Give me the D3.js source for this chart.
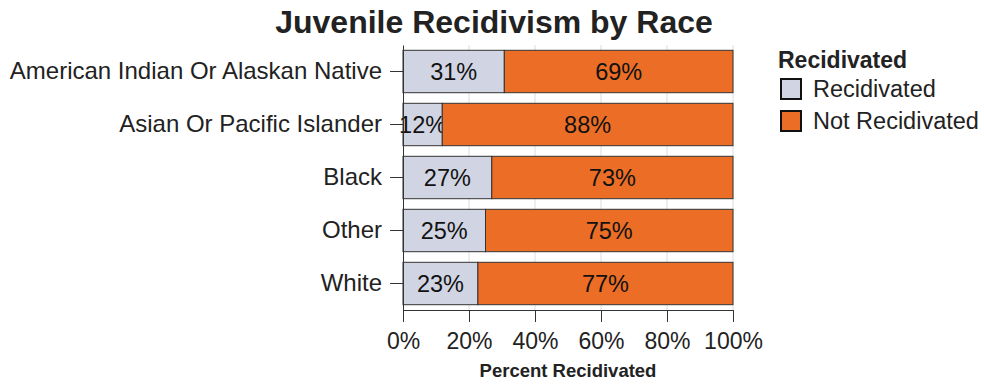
<!DOCTYPE html>
<html>
<head>
<meta charset="utf-8">
<script src="https://cdn.jsdelivr.net/npm/d3@7"></script>
<style>
  body { margin: 0; background: #fff; }
  svg { font-family: "Liberation Sans", Arial, sans-serif; }
</style>
</head>
<body>
<svg></svg>
<script>
// Chart size
const width = 984;
const height = 384;

// Data
const races = ["American Indian Or Alaskan Native", "Asian Or Pacific Islander", "Black", "Other", "White"];
const recidivated = [30.7, 11.9, 26.9, 25.0, 22.7];
const notRecidivated = recidivated.map(v => 100 - v);
const seriesNames = ["Recidivated", "Not Recidivated"];
const seriesColors = ["#d1d5e3", "#ec6e26"];
const xTicks = [0, 20, 40, 60, 80, 100];

const svg = d3.select("svg")
    .attr("width", width)
    .attr("height", height);

const margin = {left: 403, right: 251, top: 45, bottom: 74};

// Scales
const x = d3.scaleLinear()
    .domain([0, 100])
    .range([margin.left, width - margin.right]);

const y = d3.scaleBand()
    .domain(races)
    .range([margin.top, height - margin.bottom])
    .paddingInner(0.2)
    .paddingOuter(0.1);

// Gridlines
svg.append("g")
    .selectAll("line")
    .data(xTicks.slice(1))
    .enter()
    .append("line")
    .attr("x1", d => x(d))
    .attr("x2", d => x(d))
    .attr("y1", margin.top)
    .attr("y2", height - margin.bottom)
    .style("stroke", "#dcdcdc")
    .style("stroke-width", 1);

// Stacked rows
const rows = races.map((r, i) => ({race: r, parts: [recidivated[i], notRecidivated[i]]}));

const rowGroups = svg.append("g")
    .selectAll("g")
    .data(rows)
    .enter()
    .append("g");

rowGroups.each(function(d) {
    let start = 0;
    const g = d3.select(this);
    d.parts.forEach((v, k) => {
        g.append("rect")
            .attr("x", x(start))
            .attr("y", y(d.race))
            .attr("width", x(start + v) - x(start))
            .attr("height", y.bandwidth())
            .style("fill", seriesColors[k])
            .style("stroke", "#333")
            .style("stroke-width", 1);
        g.append("text")
            .attr("x", x(start + v / 2))
            .attr("y", y(d.race) + y.bandwidth() / 2 + 8)
            .attr("text-anchor", "middle")
            .style("font-size", "23.5px")
            .style("fill", "#111")
            .text(Math.round(v) + "%");
        start += v;
    });
});

// X axis
const xAxis = svg.append("g")
    .attr("transform", `translate(0,${height - margin.bottom})`)
    .call(d3.axisBottom(x)
        .tickValues(xTicks)
        .tickSize(12)
        .tickSizeOuter(0)
        .tickFormat(d => d + "%"));
xAxis.selectAll("text")
    .attr("y", 39)
    .attr("dy", null)
    .style("font-size", "23px")
    .style("fill", "#222")
    .style("font-family", "Liberation Sans, Arial, sans-serif");
xAxis.selectAll("line, path").style("stroke", "#333");

// Y axis
const yAxis = svg.append("g")
    .attr("transform", `translate(${margin.left},0)`)
    .call(d3.axisLeft(y).tickSize(13).tickPadding(8).tickSizeOuter(0));
yAxis.selectAll("text")
    .attr("dy", "0.3em")
    .style("font-size", "24px")
    .style("fill", "#222")
    .style("font-family", "Liberation Sans, Arial, sans-serif");
yAxis.selectAll("line, path").style("stroke", "#333");

// Titles
svg.append("text")
    .attr("x", 494)
    .attr("y", 33)
    .attr("text-anchor", "middle")
    .style("font-size", "32px")
    .style("font-weight", "bold")
    .style("fill", "#222")
    .text("Juvenile Recidivism by Race");

svg.append("text")
    .attr("x", (x(0) + x(100)) / 2)
    .attr("y", 377)
    .attr("text-anchor", "middle")
    .style("font-size", "18.5px")
    .style("font-weight", "bold")
    .style("fill", "#222")
    .text("Percent Recidivated");

// Legend
const legend = svg.append("g").attr("transform", "translate(778,0)");
legend.append("text")
    .attr("x", 0)
    .attr("y", 68)
    .style("font-size", "23px")
    .style("font-weight", "bold")
    .style("fill", "#222")
    .text("Recidivated");

seriesNames.forEach((name, i) => {
    const yy = 79 + i * 32;
    legend.append("rect")
        .attr("x", 3)
        .attr("y", yy)
        .attr("width", 20)
        .attr("height", 20)
        .style("fill", seriesColors[i])
        .style("stroke", "#111")
        .style("stroke-width", 2);
    legend.append("text")
        .attr("x", 35)
        .attr("y", yy + 18)
        .style("font-size", "23.5px")
        .style("fill", "#222")
        .text(name);
});
</script>
</body>
</html>
